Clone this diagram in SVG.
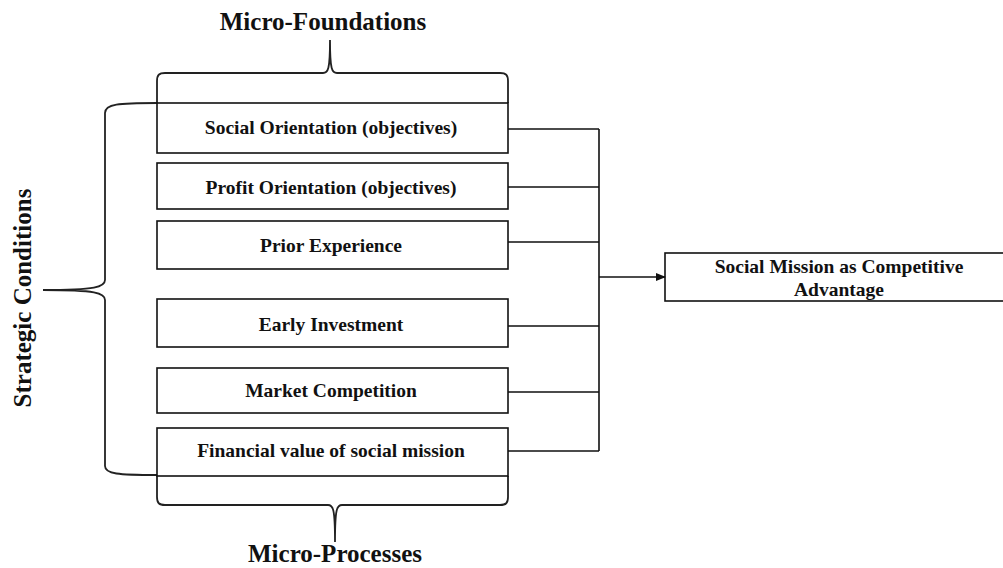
<svg xmlns="http://www.w3.org/2000/svg" width="1003" height="568" viewBox="0 0 1003 568">
  <style>
    .box { fill: #ffffff; stroke: #111111; stroke-width: 1.6; }
    .lbl { font-family: "Liberation Serif", "Times New Roman", serif; font-weight: bold; font-size: 19.5px; fill: #111111; text-anchor: middle; }
    .head { font-family: "Liberation Serif", "Times New Roman", serif; font-weight: bold; font-size: 25px; fill: #111111; text-anchor: middle; }
    .brace { fill: none; stroke: #222222; stroke-width: 1.8; }
    .wire { fill: none; stroke: #111111; stroke-width: 1.6; }
  </style>
  <defs>
    <marker id="arrow" markerWidth="10" markerHeight="8" refX="9" refY="4" orient="auto" markerUnits="userSpaceOnUse">
      <path d="M0,0 L10,4 L0,8 Z" fill="#111111"/>
    </marker>
  </defs>
  <rect width="1003" height="568" fill="#ffffff"/>

  <!-- group headings and braces -->
  <g id="micro-foundations">
    <text class="head" x="323" y="30">Micro-Foundations</text>
    <path class="brace" d="M157,103 L157,81 C157,75 159,73 165,73 L323,73 C328,73 330,70 330,40 C330,70 332,73 337,73 L500,73 C506,73 508,75 508,81 L508,103"/>
  </g>
  <g id="micro-processes">
    <path class="brace" d="M157,476 L157,497 C157,503 159,505 165,505 L328,505 C333,505 335,508 335,542 C335,508 337,505 342,505 L500,505 C506,505 508,503 508,497 L508,476"/>
    <text class="head" x="335" y="562">Micro-Processes</text>
  </g>
  <g id="strategic-conditions">
    <path class="brace" d="M157,103 C118,103 105,104 105,113 L105,280 C105,287 96,290 43,290 C96,290 105,293 105,300 L105,466 C105,474 118,475 157,475"/>
    <text class="head" transform="translate(31,298) rotate(-90)" x="0" y="0">Strategic Conditions</text>
  </g>

  <!-- condition boxes -->
  <g id="social-orientation">
    <rect class="box" x="157" y="103" width="351" height="50"/>
    <text class="lbl" x="331" y="134">Social Orientation (objectives)</text>
  </g>
  <g id="profit-orientation">
    <rect class="box" x="157" y="163" width="351" height="46"/>
    <text class="lbl" x="331" y="194">Profit Orientation (objectives)</text>
  </g>
  <g id="prior-experience">
    <rect class="box" x="157" y="221" width="351" height="48"/>
    <text class="lbl" x="331" y="252">Prior Experience</text>
  </g>
  <g id="early-investment">
    <rect class="box" x="157" y="299" width="351" height="48"/>
    <text class="lbl" x="331" y="331">Early Investment</text>
  </g>
  <g id="market-competition">
    <rect class="box" x="157" y="368" width="351" height="45"/>
    <text class="lbl" x="331" y="397">Market Competition</text>
  </g>
  <g id="financial-value">
    <rect class="box" x="157" y="428" width="351" height="48"/>
    <text class="lbl" x="331" y="457">Financial value of social mission</text>
  </g>

  <!-- outcome box -->
  <g id="social-mission">
    <rect class="box" x="665" y="253" width="345" height="48"/>
    <text class="lbl" x="839" y="273">Social Mission as Competitive</text>
    <text class="lbl" x="839" y="296">Advantage</text>
  </g>

  <!-- connectors -->
  <g id="connectors">
    <path class="wire" d="M508,129 H599 M508,187 H599 M508,242 H599 M508,326 H599 M508,392 H599 M508,451 H599 M599,129 V451"/>
    <line class="wire" x1="599" y1="277" x2="665" y2="277" marker-end="url(#arrow)"/>
  </g>
</svg>
